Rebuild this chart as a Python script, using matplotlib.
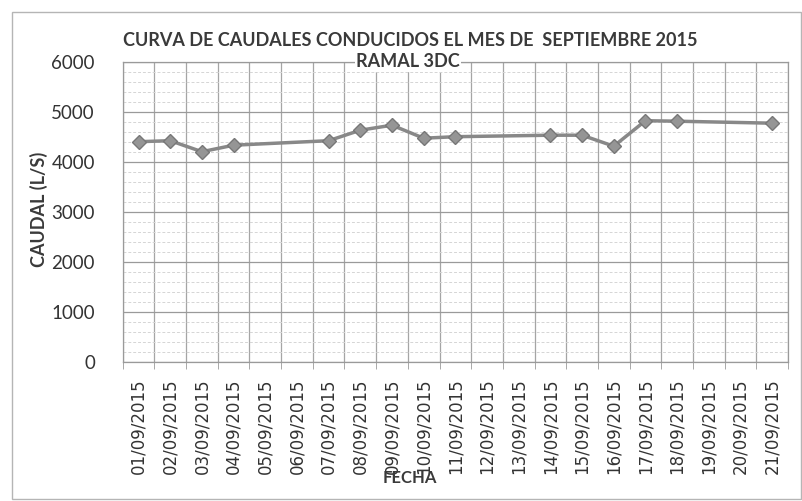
import numpy as np
import matplotlib.pyplot as plt
from matplotlib.patches import Rectangle

# Fechas del mes (categorias del eje X)
fechas = [f"{d:02d}/09/2015" for d in range(1, 22)]

# Caudal conducido (L/S); nan = dia sin medicion
caudal = [4400, 4420, 4200, 4330, np.nan, np.nan, 4420, 4630, 4730, 4470,
          4500, np.nan, np.nan, 4530, 4530, 4310, 4820, 4810, np.nan, np.nan, 4770]

titulo = "CURVA DE CAUDALES CONDUCIDOS EL MES DE  SEPTIEMBRE 2015"
subtitulo = "RAMAL 3DC"

W, H = 803, 501
fig = plt.figure(figsize=(W / 100, H / 100), dpi=100)

# plot area in pixels (left, top, right, bottom)
L, T, R, B = 122.7, 61.7, 788, 361.7
ax = fig.add_axes([L / W, 1 - B / H, (R - L) / W, (B - T) / H])

x = np.arange(len(fechas))
y = np.array(caudal, dtype=float)
ok = ~np.isnan(y)
ax.plot(x[ok], y[ok], color='#888888', lw=2.5, marker='D', ms=7.5,
        mfc='#959595', mec='#777777', mew=1, zorder=3)

ax.set_xlim(-0.5, len(fechas) - 0.5)
ax.set_ylim(0, 6000)
ax.set_yticks(range(0, 6001, 1000))
ax.set_yticks(range(0, 6001, 200), minor=True)
ax.set_xticks(x)
ax.set_xticklabels(fechas, rotation=90)
for lab in ax.get_xticklabels():
    lab.set_family('DejaVu Sans')
    lab.set_fontsize(12)
    lab.set_color('#333333')
ax.set_xticks(np.arange(-0.5, len(fechas)), minor=True)
ax.tick_params(axis='x', which='major', length=0, pad=12)
ax.tick_params(axis='x', which='minor', length=5, color='#9a9a9a')
ax.tick_params(axis='y', which='both', length=0, pad=20)
for lab in ax.get_yticklabels():
    lab.set_family('Lato')
    lab.set_fontsize(13.5)
    lab.set_color('#333333')

ax.grid(True, axis='y', which='major', color='#9a9a9a', lw=0.9)
ax.grid(True, axis='y', which='minor', color='#d5d5d5', lw=0.7, ls=(0, (3, 2)))
ax.grid(True, axis='x', which='minor', color='#a5a5a5', lw=0.9)
for s in ax.spines.values():
    s.set_color('#9a9a9a')
    s.set_linewidth(0.9)

fig.text(410 / W, 1 - 40 / H, titulo, ha='center', va='center',
         fontsize=13, fontweight='bold', family='Lato', color='#3a3a3a')
fig.text(408 / W, 1 - 62 / H, subtitulo, ha='center', va='center',
         fontsize=13, fontweight='bold', family='Lato', color='#3a3a3a',
         bbox=dict(facecolor='white', edgecolor='none', pad=1), zorder=5)
fig.text(39 / W, 1 - 209 / H, "CAUDAL (L/S)", ha='center', va='center', rotation=90,
         fontsize=13, fontweight='bold', family='Lato', color='#3a3a3a')
fig.text(410 / W, 1 - 478 / H, "FECHA", ha='center', va='center',
         fontsize=12, fontweight='bold', family='Lato', color='#3a3a3a', zorder=5)

# marco del grafico
fig.patches.append(Rectangle((12 / W, 2 / H), (W - 14) / W, (H - 14) / H,
                             transform=fig.transFigure, fill=False,
                             edgecolor='#b5b5b5', lw=1))

fig.savefig('out.png', dpi=100)
